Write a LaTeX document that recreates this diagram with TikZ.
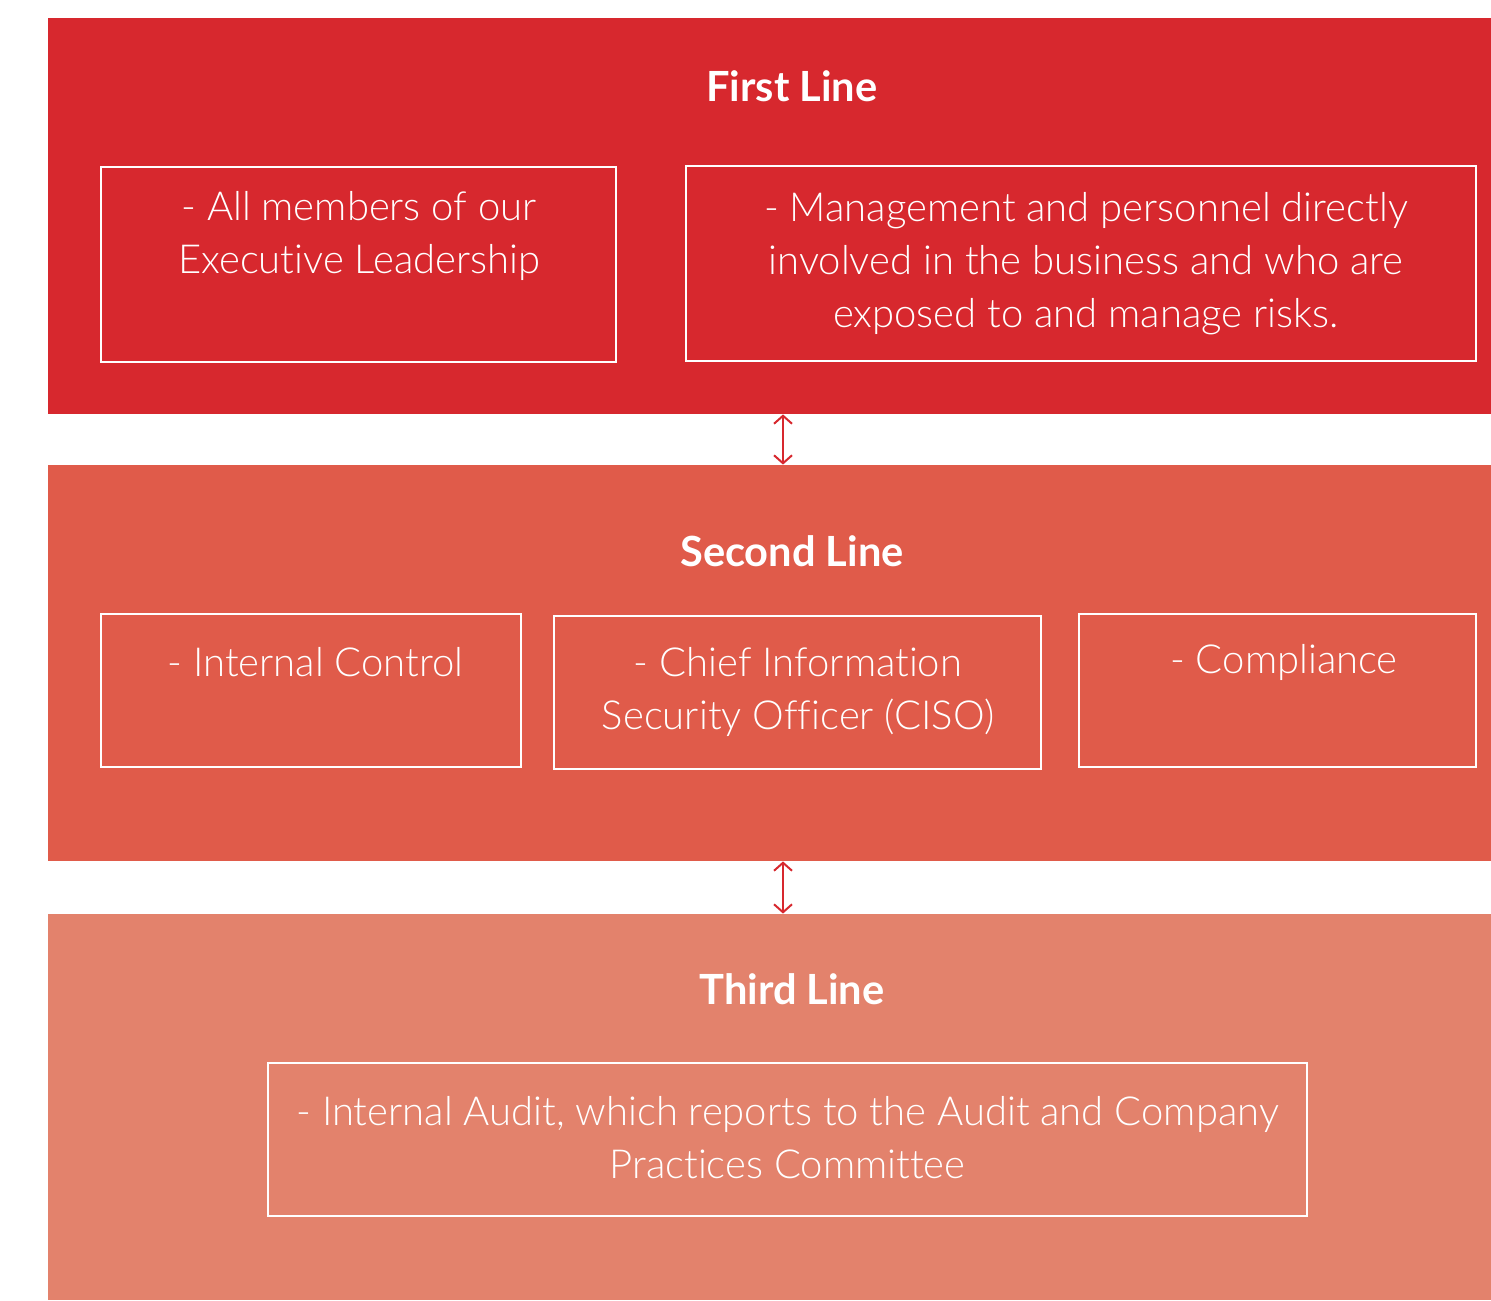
\documentclass[tikz,border=0pt]{standalone}
\usepackage{fontspec}
\setmainfont{Lato}[UprightFont={* Light}, BoldFont={* Bold}, Ligatures=NoCommon]
\usetikzlibrary{arrows.meta}
\definecolor{lineA}{HTML}{D7282E}
\definecolor{lineB}{HTML}{E05B4A}
\definecolor{lineC}{HTML}{E3826C}
\tikzset{
  band/.style={rectangle, inner sep=0pt, draw=none},
  itembox/.style={rectangle, draw=white, line width=1pt, inner sep=0pt},
  itemtext/.style={text=white, font=\fontsize{20}{26.5}\selectfont, align=center, anchor=base, inner sep=0pt},
  title/.style={text=white, font=\fontsize{20.8}{25}\selectfont\bfseries, anchor=base, inner sep=0pt},
  link/.style={draw=lineA, line width=1pt, {Straight Barb[length=4pt,width=9pt]}-{Straight Barb[length=4pt,width=9pt]}}
}
\begin{document}
\begin{tikzpicture}[x=0.5pt, y=-0.5pt]
\useasboundingbox (0,0) rectangle (1491,1300);

% three bands
\node[band, fill=lineA, minimum width=721.5pt, minimum height=198pt] (first) at (769.5,216) {};
\node[band, fill=lineB, minimum width=721.5pt, minimum height=198pt] (second) at (769.5,663) {};
\node[band, fill=lineC, minimum width=721.5pt, minimum height=193pt] (third) at (769.5,1107) {};

% titles
\node[title] (t1) at (792,102) {First Line};
\node[title] (t2) at (792,566) {Second Line};
\node[title] (t3) at (792,1004) {Third Line};

% first line boxes (text anchored on the baseline of its last line)
\node[itembox, minimum width=257.5pt, minimum height=97.5pt] (b11) at (358.5,264.5) {};
\node[itembox, minimum width=395pt, minimum height=97.5pt] (b12) at (1081,263.5) {};
\node[itemtext] (x11) at (359,273) {- All members of our\\Executive Leadership};
\node[itemtext] (x12) at (1086,327) {- Management and personnel directly\\involved in the business and who are\\exposed to and manage risks.};

% second line boxes
\node[itembox, minimum width=210pt, minimum height=76.5pt] (b21) at (311,690.5) {};
\node[itembox, minimum width=243.5pt, minimum height=76.5pt] (b22) at (797.5,692.5) {};
\node[itembox, minimum width=198.5pt, minimum height=76.5pt] (b23) at (1277.5,690.5) {};
\node[itemtext] (x21) at (315.5,676) {- Internal Control};
\node[itemtext] (x22) at (798,729) {- Chief Information\\Security Officer (CISO)};
\node[itemtext] (x23) at (1284,673) {- Compliance};

% third line box
\node[itembox, minimum width=519.5pt, minimum height=76.5pt] (b31) at (787.5,1139.5) {};
\node[itemtext] (x31) at (787.5,1178) {- Internal Audit, which reports to the Audit and Company\\Practices Committee};

% links between the lines
\draw[link] (first.south -| 783,0) -- (second.north -| 783,0);
\draw[link] (second.south -| 783,0) -- (third.north -| 783,0);
\end{tikzpicture}
\end{document}
